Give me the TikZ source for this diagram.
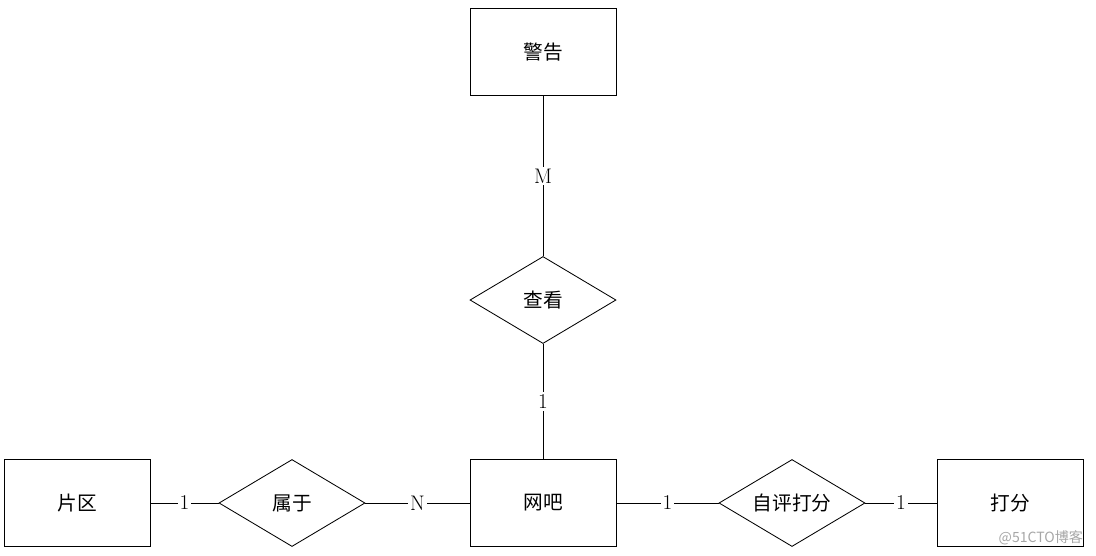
\documentclass[tikz,border=0pt]{standalone}
\usepackage{fontspec}
\newfontfamily\cjk{Noto Sans CJK SC}
\usetikzlibrary{shapes.geometric, positioning}

\begin{document}
\begin{tikzpicture}[x=0.025cm, y=-0.025cm, line width=0.6pt,
    entity/.style={draw, rectangle, minimum width=3.65cm, minimum height=2.175cm, inner sep=0pt, font=\cjk\fontsize{14}{16}\selectfont},
    relation/.style={draw, diamond, aspect=1.68, minimum width=3.65cm, minimum height=2.175cm, inner sep=0pt, font=\cjk\fontsize{14}{16}\selectfont},
    card/.style={fill=white, inner sep=1.5pt, font=\fontsize{15}{17}\selectfont}]
    \useasboundingbox (0,0) rectangle (1096,555);

    \node[entity] (jinggao) at (543,52) {警告};
    \node[relation] (chakan) at (543,300) {查看};
    \node[entity] (wangba) at (543,503) {网吧};
    \node[entity] (pianqu) at (77,503) {片区};
    \node[relation] (shuyu) at (292,503) {属于};
    \node[relation] (ziping) at (792,503) {自评打分};
    \node[entity] (dafen) at (1010,503) {打分};

    \path
    (jinggao) edge node[card] {M} (chakan)
    (chakan) edge node[card] {1} (wangba)
    (pianqu) edge node[card] {1} (shuyu)
    (shuyu) edge node[card] {N} (wangba)
    (wangba) edge node[card] {1} (ziping)
    (ziping) edge node[card] {1} (dafen);

    % watermark
    \node[font=\cjk\fontsize{10}{11}\selectfont, text=black!35, anchor=east] (mark) at (1088,538) {@51CTO博客};
\end{tikzpicture}
\end{document}
